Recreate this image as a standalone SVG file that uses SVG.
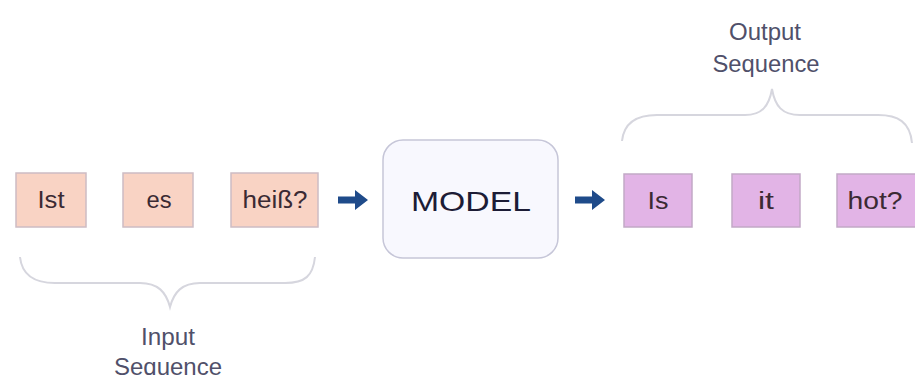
<svg xmlns="http://www.w3.org/2000/svg" width="915" height="375" viewBox="0 0 915 375">
<defs>
<style>
.in rect{fill:#f9d3c4;stroke:#cdbcc4;stroke-width:1.5}
.out rect{fill:#e2b4e6;stroke:#c2a9c6;stroke-width:1.5}
.lbl{font-family:"Liberation Sans",Arial,sans-serif;font-size:23px;fill:#3b2a33;text-anchor:middle;dominant-baseline:central}
.cap{font-family:"Liberation Sans",Arial,sans-serif;font-size:23px;fill:#50506a;text-anchor:middle}
.brace{fill:none;stroke:#d6d6de;stroke-width:2}
.arr{fill:#1f4b8a}
</style>
</defs>
<rect width="915" height="375" fill="#ffffff"/>
<g id="in1" class="in"><rect x="16" y="173" width="70" height="54"/><text class="lbl" x="51" y="200" textLength="27" lengthAdjust="spacingAndGlyphs">Ist</text></g>
<g id="in2" class="in"><rect x="123" y="173" width="70" height="54"/><text class="lbl" x="159" y="200" textLength="25" lengthAdjust="spacingAndGlyphs">es</text></g>
<g id="in3" class="in"><rect x="231" y="173" width="87" height="54"/><text class="lbl" x="275" y="200" textLength="65" lengthAdjust="spacingAndGlyphs">heiß?</text></g>
<g id="model"><rect x="383" y="140" width="175" height="118" rx="20" fill="#f8f8fe" stroke="#c6c6d8" stroke-width="1.5"/><text x="471" y="201" font-family="'Liberation Sans',Arial,sans-serif" font-size="28" fill="#1c1c36" text-anchor="middle" dominant-baseline="central" textLength="120" lengthAdjust="spacingAndGlyphs">MODEL</text></g>
<g id="out1" class="out"><rect x="624" y="174" width="68" height="53"/><text class="lbl" x="658" y="201" textLength="21" lengthAdjust="spacingAndGlyphs">Is</text></g>
<g id="out2" class="out"><rect x="732" y="174" width="68" height="53"/><text class="lbl" x="766" y="201" textLength="16" lengthAdjust="spacingAndGlyphs">it</text></g>
<g id="out3" class="out"><rect x="837" y="174" width="80" height="53"/><text class="lbl" x="875" y="201" textLength="55" lengthAdjust="spacingAndGlyphs">hot?</text></g>
<g id="input-label"><path class="brace" d="M20,257 C22,276 35,283 55,283 L140,283 C158,283 166,292 170,307 C174,292 182,283 200,283 L285,283 C305,283 313,276 315,257"/><text class="cap" x="168" y="345" textLength="54" lengthAdjust="spacingAndGlyphs">Input</text><text class="cap" x="168" y="375" textLength="108" lengthAdjust="spacingAndGlyphs">Sequence</text></g>
<g id="output-label"><path class="brace" d="M622,141 C624,122 637,115 657,115 L745,115 C762,115 769,106 772,89 C775,106 782,115 800,115 L878,115 C898,115 910,122 912,143"/><text class="cap" x="765" y="40" textLength="72" lengthAdjust="spacingAndGlyphs">Output</text><text class="cap" x="766" y="72" textLength="107" lengthAdjust="spacingAndGlyphs">Sequence</text></g>
<g id="connectors">
<path class="arr" d="M338,196.5 L355,196.5 L355,190 L368,200 L355,210 L355,203.5 L338,203.5 Z"/>
<path class="arr" d="M575,196.5 L592,196.5 L592,190 L605,200 L592,210 L592,203.5 L575,203.5 Z"/>
</g>
</svg>
